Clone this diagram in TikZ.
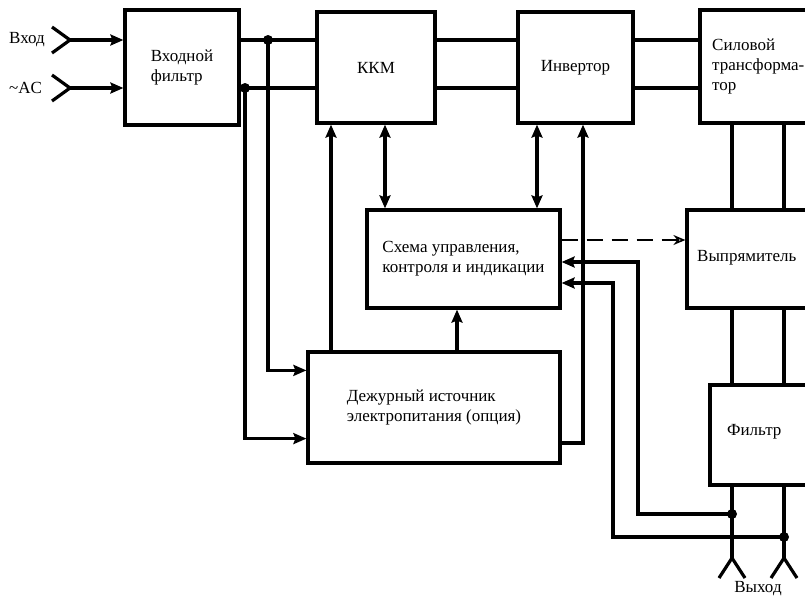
\documentclass[tikz,border=0pt]{standalone}
\usepackage{fontspec}
\setmainfont{Liberation Serif}
\usetikzlibrary{arrows.meta,calc}
\begin{document}
\begin{tikzpicture}[x=1pt,y=-1pt,
  wire/.style={line width=3.2pt},
  box/.style={draw,line width=3.2pt,inner sep=0pt,
    font=\fontsize{17}{20}\selectfont,align=left},
  lbl/.style={font=\fontsize{17}{20}\selectfont,align=left,inner sep=0pt},
  head/.style={Stealth[length=13pt,width=11pt,inset=2pt]},
  arr/.style={wire,-{Stealth[length=13pt,width=11pt,inset=2pt]}},
  dbl/.style={wire,{Stealth[length=13pt,width=11pt,inset=2pt]}-{Stealth[length=13pt,width=11pt,inset=2pt]}},
  sig/.style={line width=1.6pt,dash pattern=on 16pt off 9pt,
    -{Stealth[length=12pt,width=10pt,open]}},
  dot/.style={circle,fill,inner sep=0pt,minimum size=10pt},
]
\useasboundingbox (0,0) rectangle (805,598);
\clip (0,0) rectangle (805,598);

% blocks
\node[box,minimum width=114,minimum height=115] (inf) at (182,67.5) {Входной\\фильтр};
\node[box,minimum width=118,minimum height=111] (kkm) at (376,67.5) {ККМ};
\node[box,minimum width=115,minimum height=111] (inv) at (575.5,67.5) {Инвертор};
\node[box,minimum width=130,minimum height=113] (tr) at (765,66.5) {};
\node[box,minimum width=193,minimum height=98] (ctl) at (463.5,259)
  {Схема управления,\\контроля и индикации};
\node[box,minimum width=143,minimum height=98] (rect) at (758.5,259) {};
\node[box,minimum width=252,minimum height=111] (dez) at (434,407.5)
  {Дежурный источник\\электропитания (опция)};
\node[box,minimum width=120,minimum height=100] (flt) at (770,435) {};

\node[lbl,anchor=west] (trt) at (712,66) {Силовой\\трансформа-\\тор};
\node[lbl,anchor=west] (rectt) at (697,258) {Выпрямитель};
\node[lbl,anchor=west] (fltt) at (727,432) {Фильтр};

% input and output terminals
\coordinate (vin1) at (70,40);
\coordinate (vin2) at (70,88);
\node[lbl,anchor=west] (lin1) at (9,40) {Вход};
\node[lbl,anchor=west] (lin2) at (9,88) {\textasciitilde AC};
\coordinate (o1) at (732,558);
\coordinate (o2) at (784,558);
\node[lbl] (lout) at (758,589) {Выход};

% column and row helpers
\coordinate (xa) at (331,0);
\coordinate (xb) at (385,0);
\coordinate (xc) at (537,0);
\coordinate (xd) at (583,0);
\coordinate (xe) at (457,0);
\coordinate (xf) at (613,0);
\coordinate (xg) at (638,0);
\coordinate (xh) at (732,0);
\coordinate (xi) at (784,0);
\coordinate (ya) at (0,443);
\coordinate (yb) at (0,262);
\coordinate (yc) at (0,283);
\coordinate (yd) at (0,240);
\coordinate (j1) at (268,40);
\coordinate (j2) at (245,88);
\coordinate (j3) at (732,514);
\coordinate (j4) at (784,537);

% mains input
\draw[wire] (vin1) ++(-18,-13) -- (vin1) -- ++(-18,13);
\draw[wire] (vin2) ++(-18,-13) -- (vin2) -- ++(-18,13);
\draw[arr] (vin1) -- (inf.west |- vin1);
\draw[arr] (vin2) -- (inf.west |- vin2);

% power path
\draw[wire] (inf.east |- j1) -- (kkm.west |- j1);
\draw[wire] (inf.east |- j2) -- (kkm.west |- j2);
\draw[wire] (kkm.east |- j1) -- (inv.west |- j1);
\draw[wire] (kkm.east |- j2) -- (inv.west |- j2);
\draw[wire] (inv.east |- j1) -- (tr.west |- j1);
\draw[wire] (inv.east |- j2) -- (tr.west |- j2);
\draw[wire] (tr.south -| xh) -- (rect.north -| xh);
\draw[wire] (tr.south -| xi) -- (rect.north -| xi);
\draw[wire] (rect.south -| xh) -- (flt.north -| xh);
\draw[wire] (rect.south -| xi) -- (flt.north -| xi);
\draw[wire] (flt.south -| xh) -- (o1);
\draw[wire] (flt.south -| xi) -- (o2);
\draw[wire] (o1) ++(-13,20) -- (o1) -- ++(13,20);
\draw[wire] (o2) ++(-13,20) -- (o2) -- ++(13,20);

% standby supply feed
\draw[arr] (j1) |- ($(dez.north west)+(0,20)$);
\draw[arr] (j2) |- ($(dez.south west)+(0,-26)$);
\node[dot] (d1) at (j1) {};
\node[dot] (d2) at (j2) {};

% standby supply outputs
\draw[arr] (dez.north -| xa) -- (kkm.south -| xa);
\draw[arr] (dez.north -| xe) -- (ctl.south -| xe);
\draw[arr] (dez.east |- ya) -| (inv.south -| xd);

% control links
\draw[dbl] (kkm.south -| xb) -- (ctl.north -| xb);
\draw[dbl] (inv.south -| xc) -- (ctl.north -| xc);
\draw[sig] (ctl.east |- yd) -- (rect.west |- yd);

% output voltage feedback
\draw[arr] (j3) -| (xg |- yb) -- (ctl.east |- yb);
\draw[arr] (j4) -| (xf |- yc) -- (ctl.east |- yc);
\node[dot] (d3) at (j3) {};
\node[dot] (d4) at (j4) {};
\end{tikzpicture}
\end{document}
